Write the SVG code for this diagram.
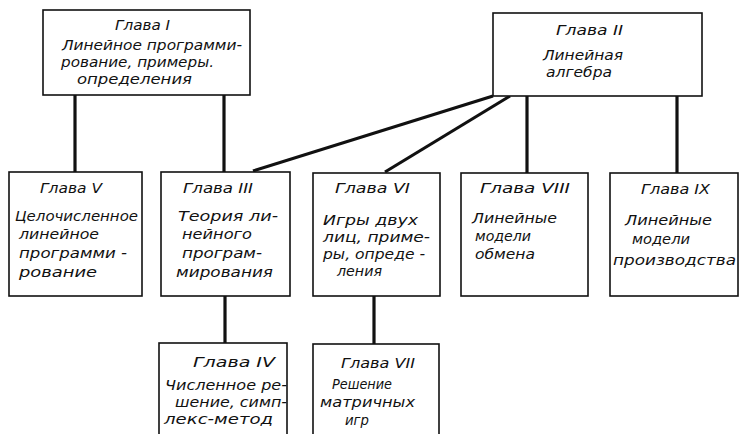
<svg xmlns="http://www.w3.org/2000/svg" width="739" height="434" viewBox="0 0 739 434">
<style>
.box{fill:#fff;stroke:#111;stroke-width:1.6}
.c{stroke:#111;stroke-width:3.2;fill:none;stroke-linecap:butt}
text{font-family:"DejaVu Sans Condensed","DejaVu Sans",sans-serif;font-stretch:condensed;font-style:italic;font-size:14px;fill:#111}
</style>
<rect width="739" height="434" fill="#fff"/>
<g id="connectors">
<line class="c" x1="75" y1="95" x2="75" y2="172"/>
<line class="c" x1="224" y1="95" x2="224" y2="172"/>
<line class="c" x1="493" y1="96" x2="253" y2="171"/>
<line class="c" x1="510" y1="96" x2="385" y2="172"/>
<line class="c" x1="527" y1="96" x2="527" y2="173"/>
<line class="c" x1="677" y1="96" x2="677" y2="173"/>
<line class="c" x1="225" y1="296" x2="225" y2="343"/>
<line class="c" x1="374" y1="296" x2="374" y2="344"/>
</g>
<g id="ch1">
<rect class="box" x="43" y="10" width="207" height="85"/>
<text x="115" y="30" textLength="55" lengthAdjust="spacingAndGlyphs">Глава I</text>
<text x="62" y="50" textLength="180" lengthAdjust="spacingAndGlyphs">Линейное программи-</text>
<text x="61" y="67" textLength="153" lengthAdjust="spacingAndGlyphs">рование, примеры.</text>
<text x="77" y="84" textLength="115" lengthAdjust="spacingAndGlyphs">определения</text>
</g>
<g id="ch2">
<rect class="box" x="493" y="13" width="209" height="83"/>
<text x="556" y="35" textLength="67" lengthAdjust="spacingAndGlyphs">Глава II</text>
<text x="543" y="60" textLength="80" lengthAdjust="spacingAndGlyphs">Линейная</text>
<text x="546" y="77" textLength="66" lengthAdjust="spacingAndGlyphs">алгебра</text>
</g>
<g id="ch5">
<rect class="box" x="9" y="172" width="133" height="124"/>
<text x="40" y="193" textLength="62" lengthAdjust="spacingAndGlyphs">Глава V</text>
<text x="15" y="221" textLength="123" lengthAdjust="spacingAndGlyphs">Целочисленное</text>
<text x="19" y="239" textLength="80" lengthAdjust="spacingAndGlyphs">линейное</text>
<text x="19" y="258" textLength="108" lengthAdjust="spacingAndGlyphs">программи -</text>
<text x="19" y="277" textLength="78" lengthAdjust="spacingAndGlyphs">рование</text>
</g>
<g id="ch3">
<rect class="box" x="161" y="172" width="129" height="124"/>
<text x="183" y="193" textLength="70" lengthAdjust="spacingAndGlyphs">Глава III</text>
<text x="178" y="221" textLength="100" lengthAdjust="spacingAndGlyphs">Теория ли-</text>
<text x="182" y="239" textLength="70" lengthAdjust="spacingAndGlyphs">нейного</text>
<text x="182" y="258" textLength="80" lengthAdjust="spacingAndGlyphs">програм-</text>
<text x="176" y="277" textLength="97" lengthAdjust="spacingAndGlyphs">мирования</text>
</g>
<g id="ch6">
<rect class="box" x="313" y="173" width="127" height="123"/>
<text x="335" y="193" textLength="75" lengthAdjust="spacingAndGlyphs">Глава VI</text>
<text x="323" y="225" textLength="95" lengthAdjust="spacingAndGlyphs">Игры двух</text>
<text x="323" y="242" textLength="107" lengthAdjust="spacingAndGlyphs">лиц, приме-</text>
<text x="323" y="259" textLength="102" lengthAdjust="spacingAndGlyphs">ры, опреде -</text>
<text x="337" y="276" textLength="45" lengthAdjust="spacingAndGlyphs">ления</text>
</g>
<g id="ch8">
<rect class="box" x="461" y="173" width="127" height="123"/>
<text x="480" y="193" textLength="90" lengthAdjust="spacingAndGlyphs">Глава VIII</text>
<text x="472" y="223" textLength="85" lengthAdjust="spacingAndGlyphs">Линейные</text>
<text x="475" y="241" textLength="56" lengthAdjust="spacingAndGlyphs">модели</text>
<text x="475" y="259" textLength="60" lengthAdjust="spacingAndGlyphs">обмена</text>
</g>
<g id="ch9">
<rect class="box" x="610" y="173" width="128" height="123"/>
<text x="641" y="194" textLength="69" lengthAdjust="spacingAndGlyphs">Глава IX</text>
<text x="625" y="225" textLength="87" lengthAdjust="spacingAndGlyphs">Линейные</text>
<text x="632" y="244" textLength="58" lengthAdjust="spacingAndGlyphs">модели</text>
<text x="613" y="265" textLength="123" lengthAdjust="spacingAndGlyphs">производства</text>
</g>
<g id="ch4">
<rect class="box" x="159" y="343" width="128" height="100"/>
<text x="193" y="367" textLength="82" lengthAdjust="spacingAndGlyphs">Глава IV</text>
<text x="165" y="390" textLength="122" lengthAdjust="spacingAndGlyphs">Численное ре-</text>
<text x="175" y="407" textLength="112" lengthAdjust="spacingAndGlyphs">шение, симп-</text>
<text x="164" y="424" textLength="109" lengthAdjust="spacingAndGlyphs">лекс-метод</text>
</g>
<g id="ch7">
<rect class="box" x="313" y="344" width="126" height="100"/>
<text x="341" y="368" textLength="74" lengthAdjust="spacingAndGlyphs">Глава VII</text>
<text x="332" y="389" textLength="60" lengthAdjust="spacingAndGlyphs">Решение</text>
<text x="320" y="407" textLength="95" lengthAdjust="spacingAndGlyphs">матричных</text>
<text x="345" y="425" textLength="24" lengthAdjust="spacingAndGlyphs">игр</text>
</g>
</svg>
